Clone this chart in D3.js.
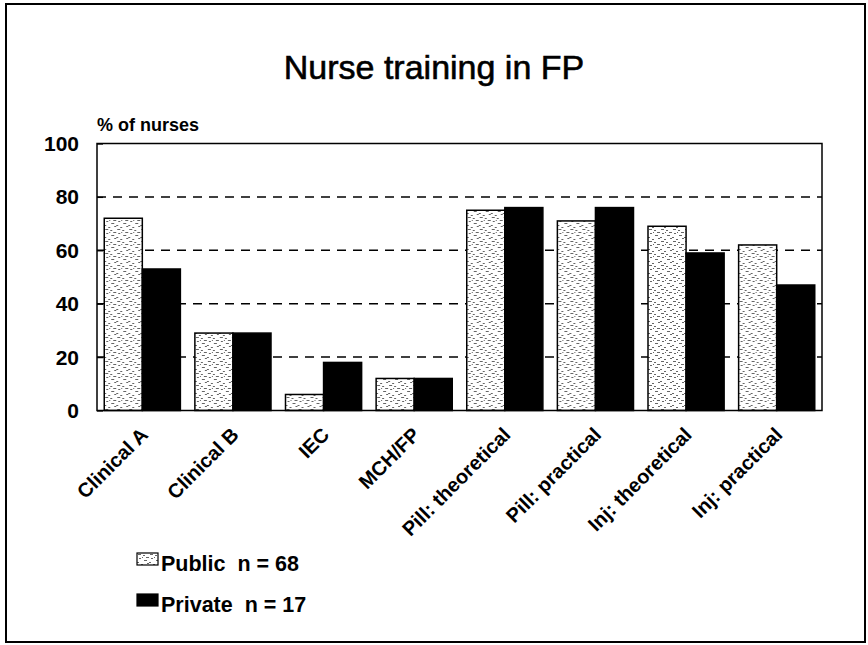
<!DOCTYPE html>
<html>
<head>
<meta charset="utf-8">
<script src="https://cdn.jsdelivr.net/npm/d3@7"></script>
<style>
  body { margin: 0; background: #fff; }
  text { font-family: "Liberation Sans", Arial, sans-serif; fill: #000; }
</style>
</head>
<body>
<svg id="chart_area"></svg>
<script>
const categories = ["Clinical A", "Clinical B", "IEC", "MCH/FP", "Pill: theoretical", "Pill: practical", "Inj: theoretical", "Inj: practical"];
const seriesNames = ["Public", "Private"];
const legendLabels = ["Public  n = 68", "Private  n = 17"];
const publicValues = [72, 29, 6, 12, 75, 71, 69, 62];
const privateValues = [53, 29, 18, 12, 76, 76, 59, 47];
const yTicks = [0, 20, 40, 60, 80, 100];

const width = 868, height = 645;
const plot = {left: 97, right: 822, top: 143.5, bottom: 410.5};

const svg = d3.select("#chart_area")
    .attr("width", width)
    .attr("height", height);

// stippled fill used for the public bars
const defs = svg.append("defs");
const pat = defs.append("pattern")
    .attr("id", "stipple")
    .attr("patternUnits", "userSpaceOnUse")
    .attr("width", 12)
    .attr("height", 12);
pat.append("rect").attr("width", 12).attr("height", 12).attr("fill", "#fff");
[[1, 1, 3], [6, 2, 2], [9, 4, 3], [2, 5, 2], [7, 7, 3], [0, 9, 2], [10, 10, 2], [4, 11, 2], [5, 4, 1]].forEach(d => {
    pat.append("rect")
        .attr("x", d[0]).attr("y", d[1])
        .attr("width", d[2]).attr("height", 1)
        .attr("fill", "#666");
});

// outer frame
svg.append("rect")
    .attr("x", 6).attr("y", 4)
    .attr("width", 859).attr("height", 638)
    .attr("fill", "none")
    .attr("stroke", "#000")
    .attr("stroke-width", 2);

svg.append("text")
    .attr("x", 434)
    .attr("y", 79)
    .attr("text-anchor", "middle")
    .style("font-size", "34px")
    .style("stroke", "#000")
    .style("stroke-width", 0.6)
    .text("Nurse training in FP");

svg.append("text")
    .attr("x", 97)
    .attr("y", 131)
    .style("font-size", "18px")
    .style("font-weight", "bold")
    .text("% of nurses");

const x0 = d3.scaleBand()
    .domain(categories)
    .range([plot.left, plot.right])
    .paddingInner(0.16)
    .paddingOuter(0.08);

const x1 = d3.scaleBand()
    .domain(seriesNames)
    .range([0, x0.bandwidth()]);

const y = d3.scaleLinear()
    .domain([0, 100])
    .range([plot.bottom, plot.top]);

const colorScale = d3.scaleOrdinal()
    .domain(seriesNames)
    .range(["url(#stipple)", "#000"]);

// dashed gridlines
svg.selectAll("line.grid")
    .data(yTicks.filter(t => t > 0 && t < 100))
    .enter().append("line")
    .attr("class", "grid")
    .attr("x1", plot.left).attr("x2", plot.right)
    .attr("y1", d => y(d)).attr("y2", d => y(d))
    .attr("stroke", "#000")
    .attr("stroke-width", 1.5)
    .attr("stroke-dasharray", "9,7");

const rows = categories.map((c, i) => ({cat: c, values: [publicValues[i], privateValues[i]]}));

const groups = svg.selectAll("g.cat")
    .data(rows)
    .enter().append("g")
    .attr("class", "cat")
    .attr("transform", d => `translate(${x0(d.cat)},0)`);

groups.selectAll("rect")
    .data(d => d.values.map((v, j) => ({series: seriesNames[j], value: v})))
    .enter().append("rect")
    .attr("x", d => x1(d.series))
    .attr("y", d => y(d.value))
    .attr("width", x1.bandwidth())
    .attr("height", d => y(0) - y(d.value))
    .attr("fill", d => colorScale(d.series))
    .attr("stroke", "#000")
    .attr("stroke-width", 1.5);

// plot area frame
svg.append("rect")
    .attr("x", plot.left).attr("y", plot.top)
    .attr("width", plot.right - plot.left)
    .attr("height", plot.bottom - plot.top)
    .attr("fill", "none")
    .attr("stroke", "#000")
    .attr("stroke-width", 1.5);

const yAxis = svg.append("g")
    .attr("transform", `translate(${plot.left},0)`)
    .call(d3.axisRight(y).tickValues(yTicks).tickSize(6).tickFormat(""));
yAxis.select(".domain").remove();
yAxis.selectAll("line").attr("stroke", "#000").attr("stroke-width", 1.3);

svg.selectAll("text.ytick")
    .data(yTicks)
    .enter().append("text")
    .attr("class", "ytick")
    .attr("x", 79)
    .attr("y", d => y(d))
    .attr("dy", "0.36em")
    .attr("text-anchor", "end")
    .style("font-size", "21px")
    .style("font-weight", "bold")
    .text(d => d);

svg.selectAll("text.xlab")
    .data(categories)
    .enter().append("text")
    .attr("class", "xlab")
    .attr("text-anchor", "end")
    .attr("dy", "0.35em")
    .attr("transform", d => `translate(${x0(d) + x0.bandwidth() / 2 + 2},431) rotate(-45)`)
    .style("font-size", "20px")
    .style("font-weight", "bold")
    .text(d => d);

const legend = svg.append("g")
    .attr("transform", "translate(137,553)");
const items = legend.selectAll("g")
    .data(seriesNames)
    .enter().append("g")
    .attr("transform", (d, i) => `translate(0,${i * 41})`);
items.append("rect")
    .attr("width", 21).attr("height", 12)
    .attr("fill", d => colorScale(d))
    .attr("stroke", "#000")
    .attr("stroke-width", 1.2);
items.append("text")
    .attr("x", 24)
    .attr("y", 18)
    .style("font-size", "21.5px")
    .style("font-weight", "bold")
    .style("white-space", "pre")
    .text((d, i) => legendLabels[i]);
</script>
</body>
</html>
